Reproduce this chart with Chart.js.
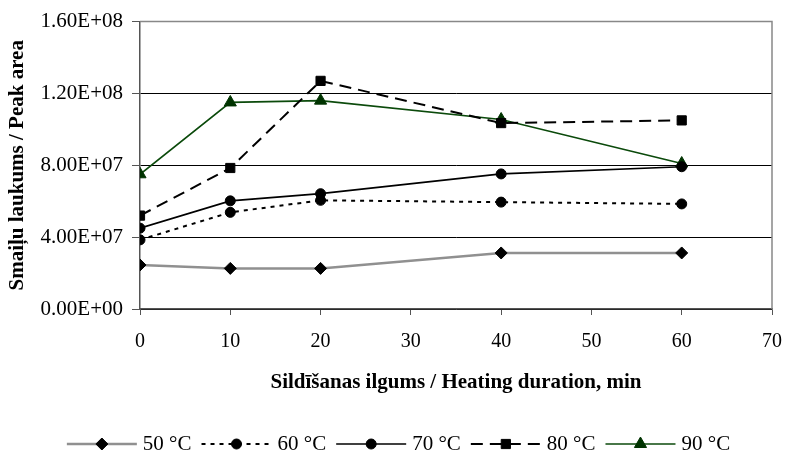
<!DOCTYPE html>
<html>
<head>
<meta charset="utf-8">
<script src="https://cdn.jsdelivr.net/npm/chart.js@4"></script>
<style>
  html, body { margin: 0; padding: 0; background: #fff; }
  #wrap { width: 797px; height: 454px; }
</style>
</head>
<body>
<div id="wrap"><canvas id="peakChart" width="797" height="454"></canvas></div>
<script>
// heating durations, min
const durations = [0, 10, 20, 40, 60];
const seriesLabels = ['50 °C', '60 °C', '70 °C', '80 °C', '90 °C'];
// peak areas
const area50 = [2.45e7, 2.26e7, 2.26e7, 3.12e7, 3.12e7];
const area60 = [3.85e7, 5.38e7, 6.05e7, 5.95e7, 5.85e7];
const area70 = [4.5e7, 6.02e7, 6.42e7, 7.52e7, 7.92e7];
const area80 = [5.2e7, 7.85e7, 1.27e8, 1.035e8, 1.05e8];
const area90 = [7.5e7, 1.15e8, 1.16e8, 1.055e8, 8.1e7];
const yTicks = [0, 4e7, 8e7, 1.2e8, 1.6e8];

const FONT = "'Liberation Serif', 'Times New Roman', serif";
const toPoints = arr => arr.map((v, i) => ({ x: durations[i], y: v }));

const fmtSci = v => {
    if (v === 0) return '0.00E+00';
    const exp = Math.floor(Math.log10(v));
    const mant = (v / Math.pow(10, exp)).toFixed(2);
    return mant + 'E+' + String(exp).padStart(2, '0');
};

const datasets = [
    { label: seriesLabels[0], data: toPoints(area50), borderColor: '#909090', borderWidth: 2.5,
      pointStyle: 'rectRot', pointRadius: 6, pointBackgroundColor: '#000', pointBorderColor: '#000' },
    { label: seriesLabels[1], data: toPoints(area60), borderColor: '#000', borderWidth: 2, borderDash: [4, 5],
      pointStyle: 'circle', pointRadius: 5, pointBackgroundColor: '#000', pointBorderColor: '#000' },
    { label: seriesLabels[2], data: toPoints(area70), borderColor: '#000', borderWidth: 1.7,
      pointStyle: 'circle', pointRadius: 5, pointBackgroundColor: '#000', pointBorderColor: '#000' },
    { label: seriesLabels[3], data: toPoints(area80), borderColor: '#000', borderWidth: 2, borderDash: [12, 7],
      pointStyle: 'rect', pointRadius: 6.5, pointBackgroundColor: '#000', pointBorderColor: '#000' },
    { label: seriesLabels[4], data: toPoints(area90), borderColor: '#0b4a0b', borderWidth: 1.7,
      pointStyle: 'triangle', pointRadius: 7, pointBackgroundColor: '#003300', pointBorderColor: '#003300' }
];
datasets.forEach(d => { d.fill = false; d.tension = 0; d.pointBorderWidth = 1; });

// gray frame on top and right of plot area
const frame = {
    id: 'frame',
    beforeDatasetsDraw(chart) {
        const { ctx, chartArea: a } = chart;
        ctx.save();
        ctx.strokeStyle = '#888';
        ctx.lineWidth = 1.5;
        ctx.beginPath();
        ctx.moveTo(a.left, a.top);
        ctx.lineTo(a.right, a.top);
        ctx.lineTo(a.right, a.bottom);
        ctx.stroke();
        ctx.restore();
    }
};

// legend drawn as line + marker + text
const lineLegend = {
    id: 'lineLegend',
    afterDraw(chart) {
        const ctx = chart.ctx;
        const lineLen = 70, gap = 6, itemGap = 10, y = 444;
        ctx.save();
        ctx.font = '21px ' + FONT;
        const widths = chart.data.datasets.map(d => ctx.measureText(d.label).width);
        const total = widths.reduce((s, w) => s + lineLen + gap + w + itemGap, 0) - itemGap;
        let x = (chart.width - total) / 2;
        chart.data.datasets.forEach((d, i) => {
            ctx.strokeStyle = d.borderColor;
            ctx.lineWidth = d.borderWidth;
            ctx.setLineDash(d.borderDash || []);
            ctx.beginPath();
            ctx.moveTo(x, y);
            ctx.lineTo(x + lineLen, y);
            ctx.stroke();
            ctx.setLineDash([]);
            ctx.fillStyle = d.pointBackgroundColor;
            ctx.strokeStyle = d.pointBorderColor;
            ctx.lineWidth = 1;
            Chart.helpers.drawPoint(ctx, {
                pointStyle: d.pointStyle, radius: d.pointRadius, rotation: 0, borderWidth: 1
            }, x + lineLen / 2, y);
            ctx.fillStyle = '#000';
            ctx.textBaseline = 'middle';
            ctx.textAlign = 'left';
            ctx.fillText(d.label, x + lineLen + gap, y);
            x += lineLen + gap + widths[i] + itemGap;
        });
        ctx.restore();
    }
};

new Chart(document.getElementById('peakChart').getContext('2d'), {
    type: 'line',
    data: { datasets },
    options: {
        responsive: false,
        animation: false,
        layout: { padding: { left: 0, right: 14, top: 17, bottom: 59 } },
        plugins: { legend: { display: false }, tooltip: { enabled: false } },
        scales: {
            x: {
                type: 'linear',
                min: 0,
                max: 70,
                afterFit: s => { s.height = 86; },
                ticks: { stepSize: 10, color: '#000', padding: 15, font: { family: FONT, size: 20 } },
                grid: { drawOnChartArea: false, tickLength: 6, tickColor: '#555' },
                border: { color: '#555', width: 1.5 },
                title: {
                    display: true,
                    text: 'Sildīšanas ilgums / Heating duration, min',
                    color: '#000',
                    padding: { top: 0, bottom: 0 },
                    font: { family: FONT, size: 21, weight: 'bold' }
                }
            },
            y: {
                min: 0,
                max: 1.6e8,
                afterFit: s => { s.width = 140; },
                afterBuildTicks: s => { s.ticks = yTicks.map(v => ({ value: v })); },
                ticks: { color: '#000', padding: 9, font: { family: FONT, size: 21 }, callback: v => fmtSci(v) },
                grid: {
                    color: c => (c.tick && c.tick.value === 1.6e8) ? '#888' : '#000',
                    lineWidth: 1,
                    tickLength: 8,
                    tickColor: '#555'
                },
                border: { color: '#555', width: 1.5 },
                title: {
                    display: true,
                    text: 'Smaiļu laukums / Peak area',
                    color: '#000',
                    padding: { top: 5, bottom: 0 },
                    font: { family: FONT, size: 21, weight: 'bold' }
                }
            }
        }
    },
    plugins: [frame, lineLegend]
});
</script>
</body>
</html>
